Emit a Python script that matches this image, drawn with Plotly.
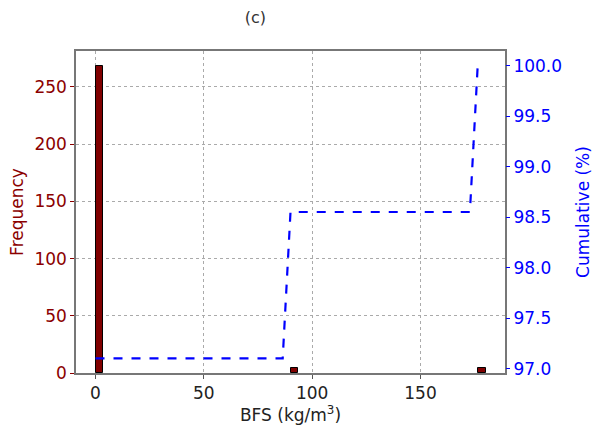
import numpy as np
import plotly.graph_objects as go

# Histogram of BFS (kg/m^3): 50 equal bins between 0 and 180
bin_lo, bin_hi, n_bins = 0.0, 180.0, 50
bin_counts = [268, 0, 0, 0, 0, 0, 0, 0, 0, 0,
              0, 0, 0, 0, 0, 0, 0, 0, 0, 0,
              0, 0, 0, 0, 0, 4, 0, 0, 0, 0,
              0, 0, 0, 0, 0, 0, 0, 0, 0, 0,
              0, 0, 0, 0, 0, 0, 0, 0, 0, 4]
x_ticks = [0, 50, 100, 150]
freq_ticks = [0, 50, 100, 150, 200, 250]
cum_ticks = [97.0, 97.5, 98.0, 98.5, 99.0, 99.5, 100.0]

edges = np.linspace(bin_lo, bin_hi, n_bins + 1)
width = edges[1] - edges[0]
counts = np.array(bin_counts, dtype=float)
centers = edges[:-1] + width / 2
cumulative = np.cumsum(counts) / counts.sum() * 100.0

nz = counts > 0
RED = "#8B0000"
BLUE = "#0000FF"
FONT = "DejaVu Sans"

fig = go.Figure()
fig.add_trace(go.Bar(
    x=centers[nz], y=counts[nz], width=width,
    marker=dict(color="#800000", line=dict(color="black", width=1)),
    yaxis="y", showlegend=False,
))
fig.add_trace(go.Scatter(
    x=edges[:-1], y=cumulative, mode="lines",
    line=dict(color=BLUE, width=2.2, dash="dash"),
    yaxis="y2", showlegend=False,
))

span = bin_hi - bin_lo
cmin, cmax = cumulative.min(), cumulative.max()
crng = cmax - cmin

fig.update_layout(
    width=595, height=434,
    margin=dict(l=76, r=90, t=51, b=61, autoexpand=False),
    paper_bgcolor="white", plot_bgcolor="white",
    font=dict(family=FONT, size=17, color="#222"),
    bargap=0,
    title=dict(text="(c)", xref="paper", x=0.418, xanchor="center",
               y=0.96, yanchor="middle",
               font=dict(size=16, color="#333")),
    xaxis=dict(
        range=[bin_lo - 0.05 * span, bin_hi + 0.05 * span],
        tickvals=x_ticks, ticks="outside", ticklen=4, tickcolor="#555",
        showgrid=True, gridcolor="#aaaaaa", griddash="dot", gridwidth=1,
        showline=True, linecolor="#777", linewidth=1.5, mirror=True,
        zeroline=False, automargin=False,
        title=dict(text="BFS (kg/m<sup>3</sup>)", standoff=4, font=dict(size=17)),
        tickfont=dict(size=17, color="#222"),
    ),
    yaxis=dict(
        range=[0, counts.max() * 1.05],
        tickvals=freq_ticks, ticks="outside", ticklen=4, tickcolor=RED,
        showgrid=True, gridcolor="#aaaaaa", griddash="dot", gridwidth=1,
        showline=True, linecolor="#777", linewidth=1.5, mirror=True,
        zeroline=False, automargin=False,
        title=dict(text="Frequency", standoff=6, font=dict(size=17, color=RED)),
        tickfont=dict(size=17, color=RED),
    ),
    yaxis2=dict(
        overlaying="y", side="right",
        range=[cmin - 0.05 * crng, cmax + 0.05 * crng],
        tickvals=cum_ticks, tickformat=".1f",
        ticks="outside", ticklen=4, tickcolor=BLUE,
        showgrid=False, zeroline=False, showline=False, automargin=False,
        title=dict(text="Cumulative (%)", standoff=16, font=dict(size=17, color=BLUE)),
        tickfont=dict(size=17, color=BLUE),
    ),
)

fig.write_html("out.html")
